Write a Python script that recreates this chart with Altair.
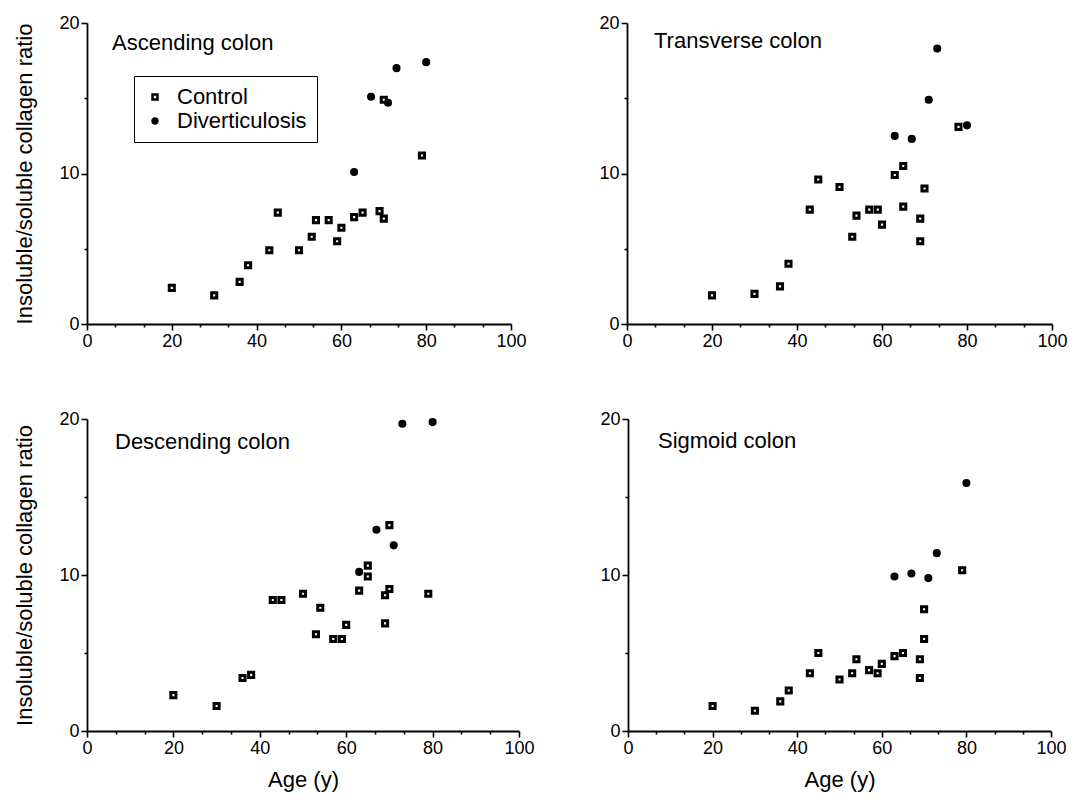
import altair as alt
import pandas as pd

FONT = "Liberation Sans"
GROUPS = ["Control", "Diverticulosis"]

# ---- data ----
asc_ctrl_age = [20, 30, 36, 38, 43, 45, 50, 53, 54, 57, 59, 60, 63, 65, 69, 70, 70, 79]
asc_ctrl_ratio = [2.4, 1.9, 2.8, 3.9, 4.9, 7.4, 4.9, 5.8, 6.9, 6.9, 5.5, 6.4, 7.1, 7.4, 7.5, 7.0, 14.9, 11.2]
asc_div_age = [63, 67, 71, 73, 80]
asc_div_ratio = [10.1, 15.1, 14.7, 17.0, 17.4]

tra_ctrl_age = [20, 30, 36, 38, 43, 45, 50, 53, 54, 57, 59, 60, 63, 65, 65, 69, 69, 70, 78]
tra_ctrl_ratio = [1.9, 2.0, 2.5, 4.0, 7.6, 9.6, 9.1, 5.8, 7.2, 7.6, 7.6, 6.6, 9.9, 10.5, 7.8, 7.0, 5.5, 9.0, 13.1]
tra_div_age = [63, 67, 71, 73, 80]
tra_div_ratio = [12.5, 12.3, 14.9, 18.3, 13.2]

des_ctrl_age = [20, 30, 36, 38, 43, 45, 50, 53, 54, 57, 59, 60, 63, 65, 65, 69, 69, 70, 70, 79]
des_ctrl_ratio = [2.3, 1.6, 3.4, 3.6, 8.4, 8.4, 8.8, 6.2, 7.9, 5.9, 5.9, 6.8, 9.0, 10.6, 9.9, 8.7, 6.9, 9.1, 13.2, 8.8]
des_div_age = [63, 67, 71, 73, 80]
des_div_ratio = [10.2, 12.9, 11.9, 19.7, 19.8]

sig_ctrl_age = [20, 30, 36, 38, 43, 45, 50, 53, 54, 57, 59, 60, 63, 65, 69, 69, 70, 70, 79]
sig_ctrl_ratio = [1.6, 1.3, 1.9, 2.6, 3.7, 5.0, 3.3, 3.7, 4.6, 3.9, 3.7, 4.3, 4.8, 5.0, 4.6, 3.4, 5.9, 7.8, 10.3]
sig_div_age = [63, 67, 71, 73, 80]
sig_div_ratio = [9.9, 10.1, 9.8, 11.4, 15.9]

# axis ticks: labelled every 20 on x (two minor ticks between), every 10 on y
x_ticks = [0, 20 / 3, 40 / 3, 20, 80 / 3, 100 / 3, 40, 140 / 3, 160 / 3, 60,
           200 / 3, 220 / 3, 80, 260 / 3, 280 / 3, 100]
y_ticks = [0, 5, 10, 15, 20]


def frame(ca, cr, da, dr):
    return pd.DataFrame({
        "age": ca + da,
        "ratio": cr + dr,
        "group": ["Control"] * len(ca) + ["Diverticulosis"] * len(da),
    })


MAJ_X = "abs(datum.value - round(datum.value / 20) * 20) < 0.01"
MAJ_Y = "abs(datum.value - round(datum.value / 10) * 10) < 0.01"


def panel(name, df, w, h, y_title, x_title, legend, tx, ty):
    tick_x = {"condition": {"test": MAJ_X, "value": 6}, "value": 3}
    tick_y = {"condition": {"test": MAJ_Y, "value": 6}, "value": 3}
    if legend:
        leg = alt.Legend(orient="none", legendX=47, legendY=53, title=None,
                         strokeColor="black", fillColor="white", padding=10,
                         labelFontSize=22, labelFont=FONT, labelColor="black",
                         symbolStrokeColor="black", symbolStrokeWidth=2.6,
                         symbolSize=24, rowPadding=2, labelOffset=11)
    else:
        leg = None
    pts = alt.Chart(df).mark_point(size=26, strokeWidth=3, stroke="black", opacity=1).encode(
        x=alt.X("age:Q", scale=alt.Scale(domain=[0, 100], nice=False),
                axis=alt.Axis(values=x_ticks, tickSize=tick_x, grid=False, labelFlush=False,
                              labelExpr=MAJ_X + " ? format(round(datum.value), 'd') : ''",
                              title="Age (y)" if x_title else None, titlePadding=12)),
        y=alt.Y("ratio:Q", scale=alt.Scale(domain=[0, 20], nice=False),
                axis=alt.Axis(values=y_ticks, tickSize=tick_y, grid=False, labelFlush=False,
                              labelExpr=MAJ_Y + " ? datum.label : ''",
                              title="Insoluble/soluble collagen ratio" if y_title else None,
                              titlePadding=22)),
        shape=alt.Shape("group:N", scale=alt.Scale(domain=GROUPS, range=["square", "circle"]), legend=leg),
        fill=alt.Fill("group:N", scale=alt.Scale(domain=GROUPS, range=["white", "black"]), legend=leg),
        stroke=alt.Stroke("group:N", scale=alt.Scale(domain=GROUPS, range=["black", "black"]), legend=leg),
    )
    txt = alt.Chart(pd.DataFrame({"t": [name]})).mark_text(
        align="left", baseline="alphabetic", fontSize=22, font=FONT, color="black"
    ).encode(text="t:N", x=alt.value(tx), y=alt.value(ty))
    return alt.layer(pts, txt).properties(width=w, height=h)


p1 = panel("Ascending colon", frame(asc_ctrl_age, asc_ctrl_ratio, asc_div_age, asc_div_ratio),
           424, 301, True, False, True, 25, 27)
p2 = panel("Transverse colon", frame(tra_ctrl_age, tra_ctrl_ratio, tra_div_age, tra_div_ratio),
           425, 301, False, False, False, 27, 25)
p3 = panel("Descending colon", frame(des_ctrl_age, des_ctrl_ratio, des_div_age, des_div_ratio),
           432, 312, True, True, False, 28, 30)
p4 = panel("Sigmoid colon", frame(sig_ctrl_age, sig_ctrl_ratio, sig_div_age, sig_div_ratio),
           423, 312, False, True, False, 30, 29)

ind = dict(shape="independent", fill="independent", stroke="independent")
top = alt.hconcat(p1, p2, spacing=71).resolve_legend(**ind)
bot = alt.hconcat(p3, p4, spacing=64).resolve_legend(**ind)

chart = alt.vconcat(top, bot, spacing=60).resolve_legend(**ind).properties(
    padding={"left": 5, "top": 6, "right": 0, "bottom": 4}
).configure(
    background="white"
).configure_view(
    stroke=None
).configure_axis(
    grid=False, domainColor="black", domainWidth=1.8, tickColor="black", tickWidth=1.6,
    labelFont=FONT, labelFontSize=18, labelColor="black", labelPadding=2,
    titleFont=FONT, titleFontSize=22, titleFontWeight="normal", titleColor="black",
)

chart.save("out.html", embed_options={"renderer": "svg", "actions": False})
